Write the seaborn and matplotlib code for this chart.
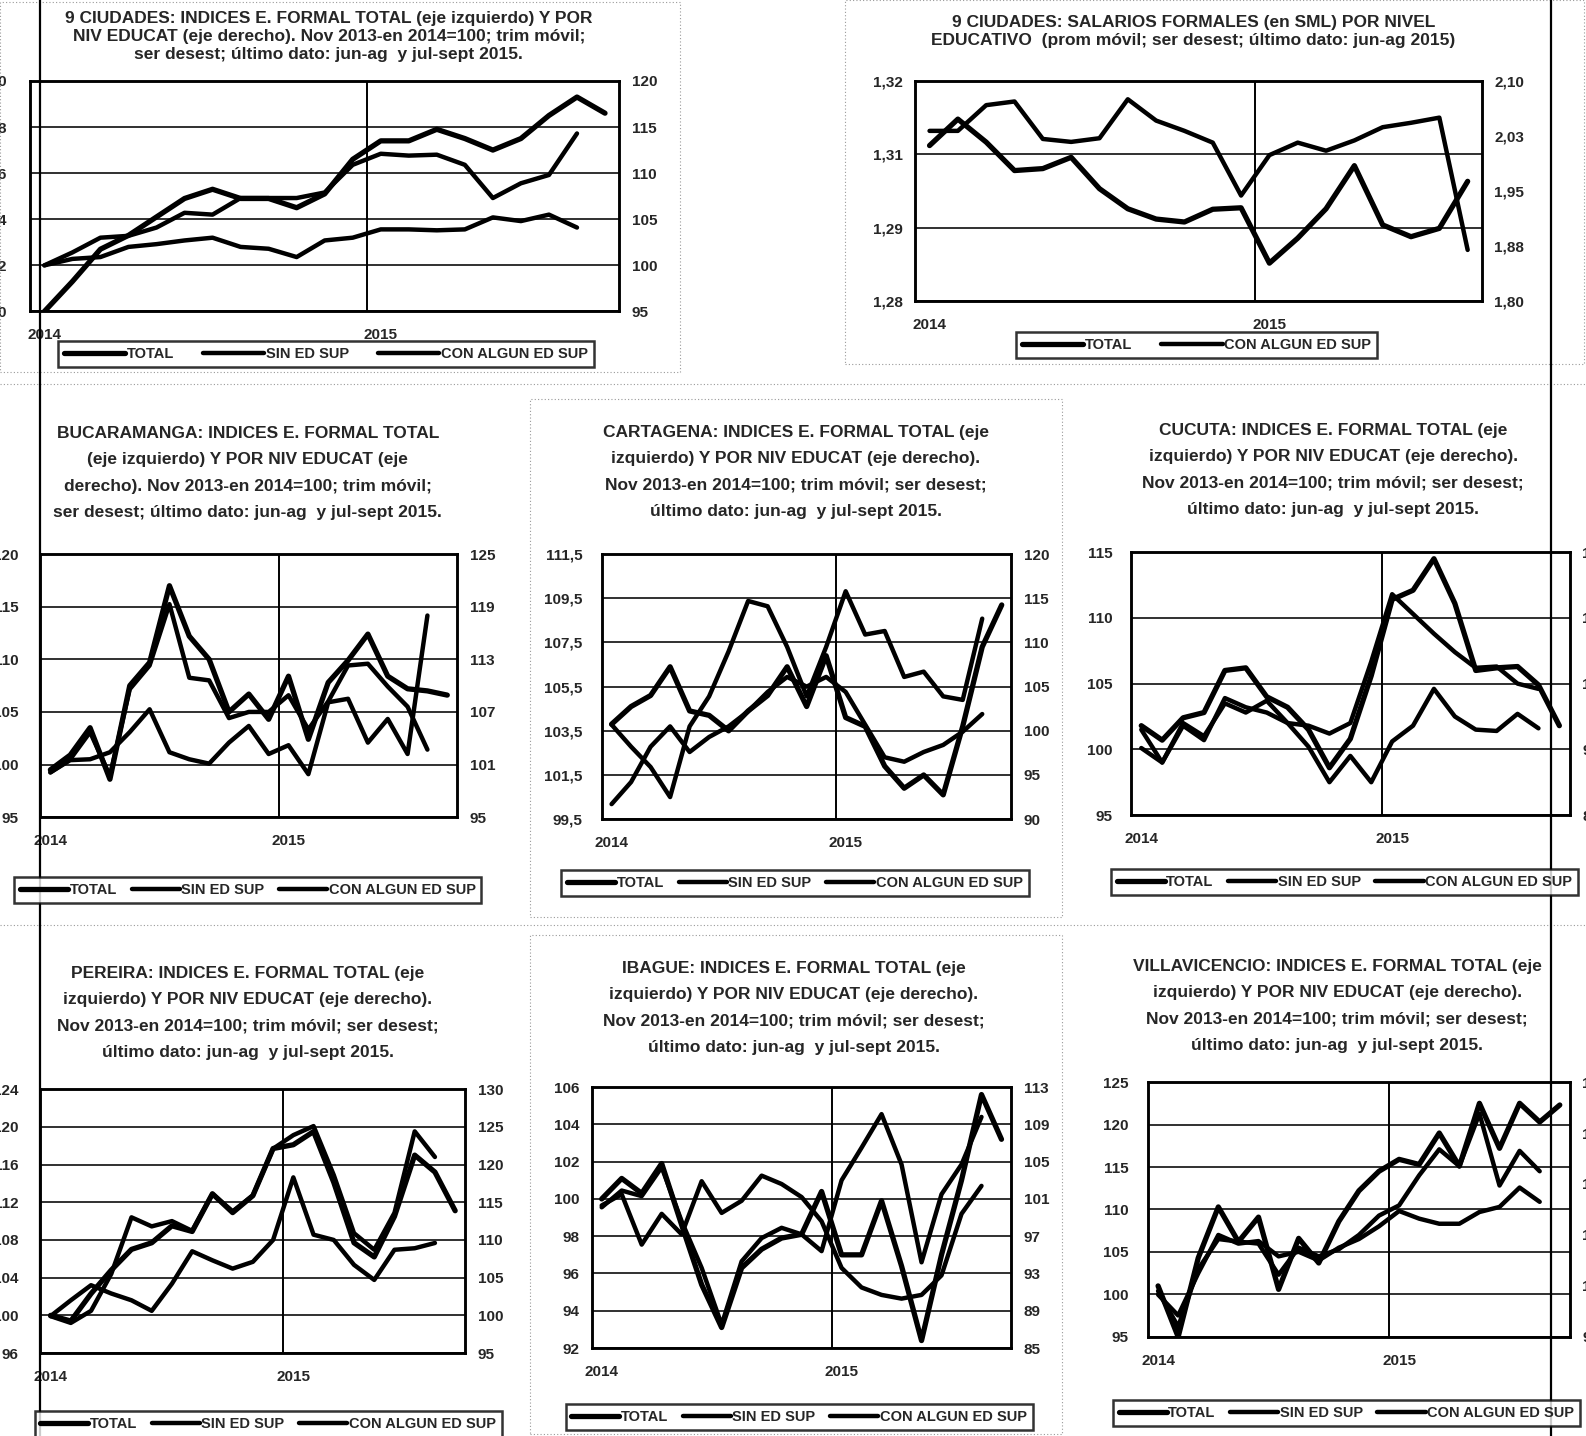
import numpy as np
import matplotlib
matplotlib.use("Agg")
import matplotlib.pyplot as plt
from matplotlib.lines import Line2D
from matplotlib.patches import Rectangle
import seaborn as sns

# ---------------- data ----------------
year_labels = ["2014", "2015"]
names3 = ["TOTAL", "SIN ED SUP", "CON ALGUN ED SUP"]
names2 = ["TOTAL", "CON ALGUN ED SUP"]

# 9 ciudades: indices empleo formal
c9_total = [100.0, 101.3, 102.7, 103.3, 104.1, 104.9, 105.3, 104.9, 104.9, 104.5, 105.1,
            106.6, 107.4, 107.4, 107.9, 107.5, 107.0, 107.5, 108.5, 109.3, 108.6]
c9_sin = [100.0, 100.7, 100.9, 102.0, 102.3, 102.7, 103.0, 102.0, 101.8, 100.9,
          102.7, 103.0, 103.9, 103.9, 103.8, 103.9, 105.2, 104.8, 105.5, 104.1]
c9_con = [100.0, 101.4, 103.0, 103.2, 104.1, 105.7, 105.5, 107.3, 107.3, 107.3,
          107.9, 110.9, 112.1, 111.9, 112.0, 110.9, 107.3, 108.9, 109.8, 114.3]
c9_lticks = [100, 102, 104, 106, 108, 110]
c9_rticks = [95, 100, 105, 110, 115, 120]

# 9 ciudades: salarios formales (SML)
sal_total = [1.3068, 1.3122, 1.3075, 1.3017, 1.3021, 1.3044, 1.2980, 1.2939, 1.2918, 1.2912,
             1.2938, 1.2941, 1.2828, 1.2879, 1.2939, 1.3027, 1.2906, 1.2882, 1.2899, 1.2995]
sal_con = [2.032, 2.032, 2.067, 2.072, 2.021, 2.017, 2.022, 2.075, 2.046, 2.032,
           2.016, 1.944, 1.999, 2.016, 2.005, 2.019, 2.037, 2.043, 2.050, 1.870]
sal_lticks = [1.275, 1.29, 1.305, 1.32]
sal_llabels = ["1,28", "1,29", "1,31", "1,32"]
sal_rticks = [1.80, 1.875, 1.95, 2.025, 2.10]
sal_rlabels = ["1,80", "1,88", "1,95", "2,03", "2,10"]

# Bucaramanga
buc_total = [99.5, 100.9, 103.5, 98.6, 107.5, 109.7, 117.0, 112.2, 110.0, 105.0, 106.7,
             104.3, 108.4, 102.4, 107.8, 109.9, 112.4, 108.4, 107.2, 107.0, 106.6]
buc_sin = [100.1, 101.5, 101.6, 102.4, 104.7, 107.3, 102.4, 101.6, 101.1, 103.5,
           105.4, 102.2, 103.2, 99.9, 108.1, 108.5, 103.5, 106.2, 102.2, 118.0]
buc_con = [100.1, 101.6, 104.7, 99.7, 109.6, 112.3, 119.3, 110.9, 110.6, 106.3,
           107.0, 107.0, 108.9, 105.0, 108.2, 112.3, 112.5, 109.9, 107.6, 102.7]
buc_lticks = [95, 100, 105, 110, 115, 120]
buc_rticks = [95, 101, 107, 113, 119, 125]

# Cartagena
cart_total = [103.8, 104.6, 105.1, 106.4, 104.4, 104.2, 103.5, 104.4, 105.1, 106.4, 104.6,
              106.9, 104.1, 103.7, 101.9, 100.9, 101.5, 100.6, 103.7, 107.3, 109.2]
cart_sin = [91.7, 94.2, 98.2, 100.5, 97.6, 99.3, 100.5, 102.2, 104.4, 106.1,
            105.0, 106.1, 104.4, 100.7, 97.0, 96.5, 97.6, 98.4, 99.9, 101.9]
cart_con = [100.7, 98.2, 95.9, 92.5, 100.5, 103.9, 109.0, 114.7, 114.1, 109.5,
            103.9, 109.5, 115.8, 110.9, 111.3, 106.1, 106.7, 103.9, 103.5, 112.7]
cart_lticks = [99.5, 101.5, 103.5, 105.5, 107.5, 109.5, 111.5]
cart_llabels = ["99,5", "101,5", "103,5", "105,5", "107,5", "109,5", "111,5"]
cart_rticks = [90, 95, 100, 105, 110, 115, 120]

# Cucuta
cuc_total = [101.8, 100.7, 102.4, 102.8, 106.0, 106.2, 104.0, 103.2, 101.5, 98.6, 100.8,
             105.6, 111.4, 112.1, 114.5, 111.1, 106.0, 106.2, 106.3, 104.9, 101.8]
cuc_sin = [95.3, 92.0, 100.4, 97.1, 106.7, 104.6, 103.4, 101.0, 95.6, 87.5,
           93.5, 87.5, 96.8, 100.4, 108.8, 102.5, 99.5, 99.2, 103.1, 99.8]
cuc_con = [99.5, 92.0, 101.0, 98.0, 105.5, 103.4, 106.1, 101.0, 100.4, 98.6,
           101.0, 115.0, 130.4, 125.9, 121.4, 117.2, 113.6, 113.9, 110.0, 108.8]
cuc_lticks = [95, 100, 105, 110, 115]
cuc_rticks = [80, 95, 110, 125, 140]

# Pereira
per_total = [100.0, 99.4, 102.3, 104.8, 107.0, 107.7, 109.5, 108.9, 112.9, 110.9, 112.7,
             117.7, 118.1, 119.5, 114.1, 107.7, 106.2, 110.5, 117.0, 115.2, 111.1]
per_sin = [99.9, 102.0, 104.0, 102.9, 102.0, 100.6, 104.2, 108.5, 107.3, 106.2,
           107.1, 110.0, 118.3, 110.7, 110.0, 106.7, 104.7, 108.7, 108.9, 109.6]
per_con = [99.9, 99.0, 100.6, 105.5, 113.0, 111.8, 112.5, 111.2, 116.1, 113.8,
           115.9, 122.1, 123.9, 125.1, 118.6, 110.9, 108.7, 113.6, 124.4, 121.0]
per_lticks = [96, 100, 104, 108, 112, 116, 120, 124]
per_rticks = [95, 100, 105, 110, 115, 120, 125, 130]

# Ibague
iba_total = [100.0, 101.1, 100.3, 101.9, 98.6, 95.4, 93.1, 96.3, 97.3, 97.9, 98.1,
             100.4, 97.0, 97.0, 99.9, 96.4, 92.4, 97.0, 101.0, 105.6, 103.2]
iba_sin = [100.1, 101.9, 101.3, 104.4, 98.6, 93.6, 87.5, 94.3, 96.8, 97.9,
           97.2, 95.4, 103.0, 106.5, 110.1, 104.7, 94.2, 101.5, 104.7, 109.8]
iba_con = [100.3, 101.5, 96.1, 99.4, 97.2, 102.9, 99.5, 100.8, 103.5, 102.6,
           101.2, 98.6, 93.6, 91.5, 90.7, 90.3, 90.7, 92.8, 99.4, 102.4]
iba_lticks = [92, 94, 96, 98, 100, 102, 104, 106]
iba_rticks = [85, 89, 93, 97, 101, 105, 109, 113]

# Villavicencio
vil_total = [101.0, 95.0, 104.3, 110.3, 106.2, 109.1, 100.6, 106.6, 103.7, 108.6, 112.2,
             114.5, 115.9, 115.3, 119.0, 115.1, 122.5, 117.2, 122.5, 120.3, 122.3]
vil_sin = [98.3, 94.2, 102.5, 110.0, 108.3, 108.8, 105.8, 106.7, 105.0, 107.5,
           109.2, 111.7, 114.7, 113.2, 112.2, 112.2, 114.5, 115.5, 119.3, 116.5]
vil_con = [99.0, 92.0, 103.3, 109.2, 108.7, 108.3, 102.2, 107.5, 105.8, 107.2,
           110.0, 113.8, 115.8, 121.7, 126.8, 123.5, 133.8, 119.7, 126.5, 122.5]
vil_lticks = [95, 100, 105, 110, 115, 120, 125]
vil_rticks = [90, 100, 110, 120, 130, 140]

SUB = ("Nov 2013-en 2014=100; trim móvil; ser desest;\n"
       "último dato: jun-ag  y jul-sept 2015.")

# ---------------- layout helpers (reference pixel frame) ----------------
sns.set_theme(style="white")
plt.rcParams["font.family"] = ["Liberation Sans", "DejaVu Sans"]
plt.rcParams["font.weight"] = "bold"

RW, RH = 1568, 1420
fig = plt.figure(figsize=(15.86, 14.36), dpi=100)


def fx(x):
    return x / RW


def fy(y):
    return 1 - y / RH


def panel(box, title, tpos, tsize, tspace, lt, lt_lab, rt, rt_lab, series, names,
          leg_pos, ncat=21, lpad=9, hlen=3.3, cspace=1.0):
    x0, y0, x1, y1 = box
    ax = fig.add_axes([fx(x0), fy(y1), (x1 - x0) / RW, (y1 - y0) / RH])
    ax2 = ax.twinx()
    handles = []
    for i, (vals, side) in enumerate(series):
        target = ax if side == "L" else ax2
        lw = 3.8 if i == 0 else 3.2
        sns.lineplot(x=np.arange(len(vals)), y=vals, ax=target, color="black",
                     lw=lw, legend=False)
        handles.append(Line2D([], [], color="black", lw=lw))
    ax.set_xlim(-0.5, ncat - 0.5)
    ax.set_ylim(lt[0], lt[-1])
    ax2.set_ylim(rt[0], rt[-1])
    ax.set_yticks(lt)
    ax.set_yticklabels(lt_lab if lt_lab else [str(v) for v in lt])
    ax2.set_yticks(rt)
    ax2.set_yticklabels(rt_lab if rt_lab else [str(v) for v in rt])
    ax.set_xticks([0, 12])
    ax.set_xticklabels(year_labels)
    ax.set_xlabel("")
    ax.set_ylabel("")
    ax2.set_ylabel("")
    ax.yaxis.grid(True, color="#303030", lw=1.4)
    ax.xaxis.grid(False)
    ax2.grid(False)
    ax.axvline(11.5, color="black", lw=1.4, zorder=1)
    for a in (ax, ax2):
        a.tick_params(length=0, labelsize=11, pad=9)
        for lab in a.get_yticklabels() + a.get_xticklabels():
            lab.set_fontweight("bold")
        for s in a.spines.values():
            s.set_color("black")
            s.set_linewidth(1.8)
    ax.tick_params(axis="y", pad=lpad)
    ax.tick_params(axis="x", pad=12)
    fig.text(fx(tpos[0]), fy(tpos[1]), title, ha="center", va="top",
             fontsize=tsize, fontweight="bold", linespacing=tspace)
    leg = fig.legend(handles, names, loc="center",
                     bbox_to_anchor=(fx(leg_pos[0]), fy(leg_pos[1])),
                     ncol=len(names), frameon=True, fancybox=False,
                     edgecolor="black", handlelength=hlen, handletextpad=0.1,
                     columnspacing=cspace, borderpad=0.4,
                     prop={"weight": "bold", "size": 10.5})
    leg.get_frame().set_linewidth(1.8)
    return ax


# dotted frames of the pasted charts
for (a, b, c, d) in [(0, 2, 672, 368), (835, 0, 1566, 360), (524, 395, 1050, 907),
                     (524, 925, 1050, 1418)]:
    fig.add_artist(Rectangle((fx(a), fy(d)), (c - a) / RW, (d - b) / RH,
                             transform=fig.transFigure, fill=False,
                             ec="#9a9a9a", lw=0.8, ls=(0, (1, 2))))
for yy in (380, 915):
    fig.add_artist(Line2D([0, 1], [fy(yy), fy(yy)], transform=fig.transFigure,
                          color="#9a9a9a", lw=0.8, ls=(0, (1, 2))))

panel((30, 80, 612, 308),
      "9 CIUDADES: INDICES E. FORMAL TOTAL (eje izquierdo) Y POR\n"
      "NIV EDUCAT (eje derecho). Nov 2013-en 2014=100; trim móvil;\n"
      "ser desest; último dato: jun-ag  y jul-sept 2015.",
      (325, 11), 12.5, 1.25, c9_lticks, None, c9_rticks, None,
      [(c9_total, "L"), (c9_sin, "R"), (c9_con, "R")], names3, (322, 350),
      lpad=17, hlen=4.2, cspace=2.0)

panel((905, 80, 1465, 298),
      "9 CIUDADES: SALARIOS FORMALES (en SML) POR NIVEL\n"
      "EDUCATIVO  (prom móvil; ser desest; último dato: jun-ag 2015)",
      (1180, 15), 12.5, 1.25, sal_lticks, sal_llabels, sal_rticks, sal_rlabels,
      [(sal_total, "L"), (sal_con, "R")], names2, (1183, 341), ncat=20,
      hlen=4.2, cspace=2.0)

panel((40, 548, 452, 808),
      "BUCARAMANGA: INDICES E. FORMAL TOTAL\n(eje izquierdo) Y POR NIV EDUCAT (eje\n"
      "derecho). Nov 2013-en 2014=100; trim móvil;\nser desest; último dato: jun-ag  y jul-sept 2015.",
      (245, 421), 12.5, 1.95, buc_lticks, None, buc_rticks, None,
      [(buc_total, "L"), (buc_sin, "R"), (buc_con, "R")], names3, (245, 880), lpad=16)

panel((595, 548, 1000, 810),
      "CARTAGENA: INDICES E. FORMAL TOTAL (eje\nizquierdo) Y POR NIV EDUCAT (eje derecho).\n" + SUB,
      (787, 420), 12.5, 1.95, cart_lticks, cart_llabels, cart_rticks, None,
      [(cart_total, "L"), (cart_sin, "R"), (cart_con, "R")], names3, (786, 873), lpad=14)

panel((1118, 546, 1552, 806),
      "CUCUTA: INDICES E. FORMAL TOTAL (eje\nizquierdo) Y POR NIV EDUCAT (eje derecho).\n" + SUB,
      (1318, 418), 12.5, 1.95, cuc_lticks, None, cuc_rticks, None,
      [(cuc_total, "L"), (cuc_sin, "R"), (cuc_con, "R")], names3, (1329, 872), lpad=13)

panel((40, 1077, 460, 1338),
      "PEREIRA: INDICES E. FORMAL TOTAL (eje\nizquierdo) Y POR NIV EDUCAT (eje derecho).\n" + SUB,
      (245, 955), 12.5, 1.95, per_lticks, None, per_rticks, None,
      [(per_total, "L"), (per_sin, "R"), (per_con, "R")], names3, (265, 1408), lpad=16)

panel((585, 1075, 1000, 1333),
      "IBAGUE: INDICES E. FORMAL TOTAL (eje\nizquierdo) Y POR NIV EDUCAT (eje derecho).\n" + SUB,
      (785, 950), 12.5, 1.95, iba_lticks, None, iba_rticks, None,
      [(iba_total, "L"), (iba_sin, "R"), (iba_con, "R")], names3, (790, 1401))

panel((1135, 1070, 1552, 1322),
      "VILLAVICENCIO: INDICES E. FORMAL TOTAL (eje\nizquierdo) Y POR NIV EDUCAT (eje derecho).\n" + SUB,
      (1322, 948), 12.5, 1.95, vil_lticks, None, vil_rticks, None,
      [(vil_total, "L"), (vil_sin, "R"), (vil_con, "R")], names3, (1331, 1397), lpad=14)

# scanner edges running down the page
for xx in (40, 1533):
    fig.add_artist(Line2D([fx(xx), fx(xx)], [0, 1], transform=fig.transFigure,
                          color="black", lw=1.6))

fig.savefig("out.png", dpi=100, facecolor="white")
